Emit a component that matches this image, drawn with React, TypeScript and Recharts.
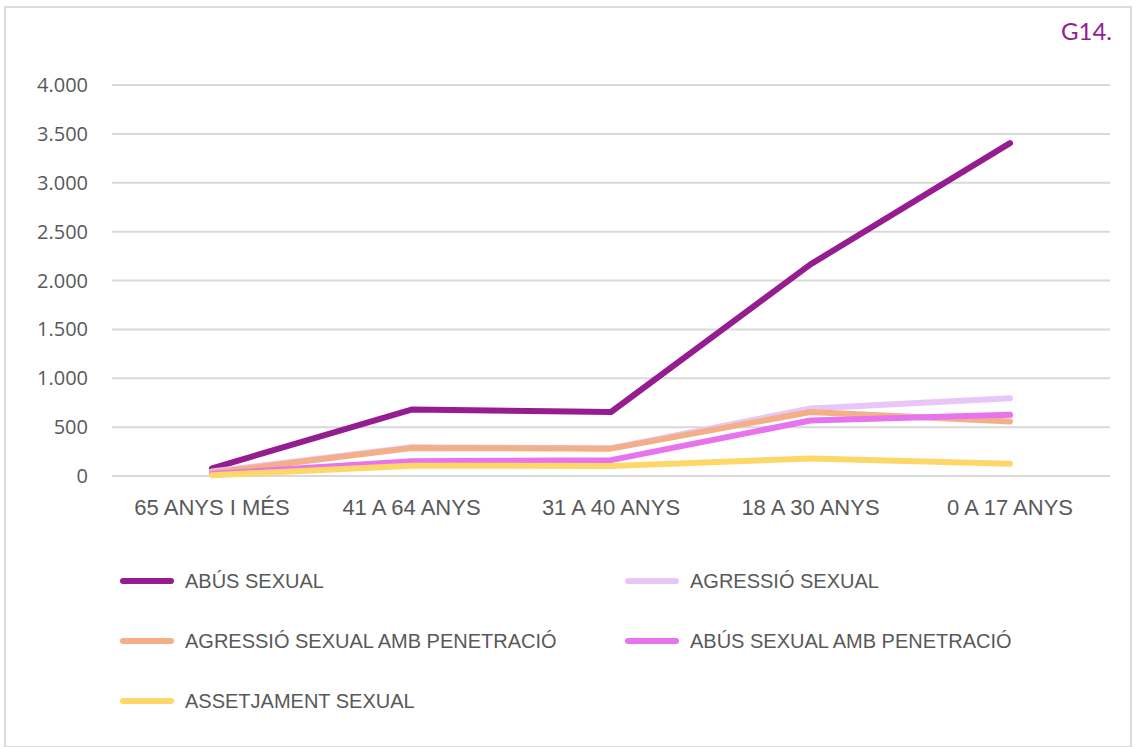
import React from 'react';
import { LineChart, Line, XAxis, YAxis, CartesianGrid, Legend } from 'recharts';

const categories = ['65 ANYS I MÉS', '41 A 64 ANYS', '31 A 40 ANYS', '18 A 30 ANYS', '0 A 17 ANYS'];

const abusSexual = [78, 680, 655, 2165, 3405];
const agressioSexual = [45, 295, 285, 690, 795];
const agressioPenetracio = [33, 287, 280, 655, 558];
const abusPenetracio = [20, 152, 162, 568, 626];
const assetjament = [8, 105, 103, 180, 125];

const yTicks = [0, 500, 1000, 1500, 2000, 2500, 3000, 3500, 4000];

const series = [
  { key: 'abus', name: 'ABÚS SEXUAL', values: abusSexual, color: '#951d8f' },
  { key: 'agressio', name: 'AGRESSIÓ SEXUAL', values: agressioSexual, color: '#e9c6f8' },
  { key: 'agressioPen', name: 'AGRESSIÓ SEXUAL AMB PENETRACIÓ', values: agressioPenetracio, color: '#f3b088' },
  { key: 'abusPen', name: 'ABÚS SEXUAL AMB PENETRACIÓ', values: abusPenetracio, color: '#e774ee' },
  { key: 'assetjament', name: 'ASSETJAMENT SEXUAL', values: assetjament, color: '#fdd868' },
];

const data = categories.map((name, i) => {
  const row: any = { name };
  series.forEach(s => { row[s.key] = s.values[i]; });
  return row;
});

const fmt = (v: number) => String(v).replace(/\B(?=(\d{3})+(?!\d))/g, '.');

const renderLegend = (props: any) => {
  const order = series.map(s => s.name);
  const items = [...(props.payload || [])].sort((a: any, b: any) => order.indexOf(a.value) - order.indexOf(b.value));
  return (
    <div style={{ position: 'relative', width: 1136, height: 180, fontFamily: '"Liberation Sans", Arial, sans-serif', fontSize: 20, color: '#595959' }}>
      {items.map((it: any, i: number) => {
        const col = i % 2;
        const row = Math.floor(i / 2);
        const left = col === 0 ? 120 : 625;
        const top = row * 60;
        return (
          <div key={it.value} style={{ position: 'absolute', left, top, height: 60, display: 'flex', alignItems: 'center' }}>
            <div style={{ width: 54, height: 6, borderRadius: 3, background: it.color, marginRight: 11 }} />
            <span>{it.value}</span>
          </div>
        );
      })}
    </div>
  );
};

export default function App() {
  return (
    <div style={{ position: 'absolute', left: 0, top: 0, width: 1136, height: 747, background: '#fff' }}>
      <div style={{ position: 'absolute', left: 4, top: 6, width: 1124, height: 738, border: '2px solid #dcdcdc' }} />
      <div style={{ position: 'absolute', right: 24, top: 16, color: '#951d8f', fontFamily: 'Lato, "Open Sans", sans-serif', fontSize: 24 }}>G14.</div>
      <LineChart width={1136} height={747} data={data} margin={{ top: 85, right: 26, left: 0, bottom: 16 }}>
        <CartesianGrid vertical={false} stroke="#d9d9d9" strokeWidth={2} />
        <XAxis dataKey="name" height={75} axisLine={false} tickLine={false} tickMargin={17}
          padding={{ left: 100, right: 100 }}
          tick={{ fill: '#595959', fontSize: 22, fontFamily: '"Liberation Sans", Arial, sans-serif' }} interval={0} />
        <YAxis width={112} domain={[0, 4000]} ticks={yTicks} tickFormatter={fmt} axisLine={false} tickLine={false}
          tickMargin={18} tick={{ fill: '#595959', fontSize: 20, fontFamily: '"Open Sans", sans-serif' }} />
        <Legend verticalAlign="bottom" content={renderLegend} wrapperStyle={{ left: 0, width: 1136, height: 180 }} />
        {series.map(s => (
          <Line key={s.key} type="linear" dataKey={s.key} name={s.name} stroke={s.color} strokeWidth={6}
            strokeLinecap="round" strokeLinejoin="round" dot={false} activeDot={false} isAnimationActive={false} />
        ))}
      </LineChart>
    </div>
  );
}
